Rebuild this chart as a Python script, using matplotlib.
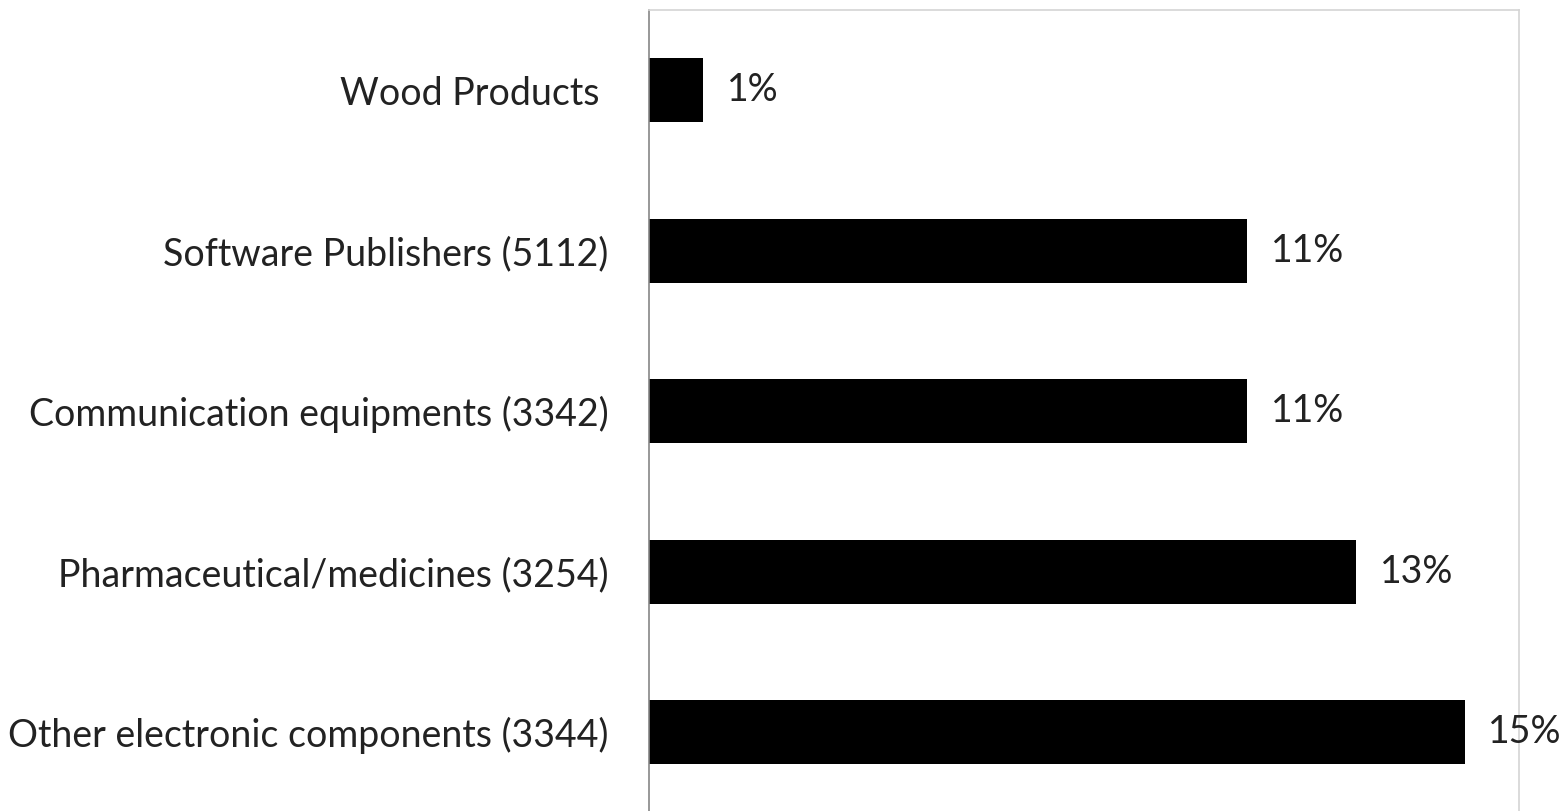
import matplotlib.pyplot as plt

# industry shares, listed top to bottom
industries = ['Wood Products ',
              'Software Publishers (5112)',
              'Communication equipments (3342)',
              'Pharmaceutical/medicines (3254)',
              'Other electronic components (3344)']
shares = [1, 11, 11, 13, 15]
share_labels = ['1%', '11%', '11%', '13%', '15%']

plt.rcParams['font.family'] = ['Lato', 'DejaVu Sans']

fig = plt.figure(figsize=(15.65, 8.11), dpi=100)
ax = fig.add_axes([649 / 1565, -1.5 / 811, 870 / 1565, 802.5 / 811])

pos = list(range(len(industries)))
bars = ax.barh(pos, shares, height=0.4, color='black')

for b, txt in zip(bars, share_labels):
    ax.annotate(txt, (b.get_width(), b.get_y() + b.get_height() / 2),
                xytext=(17, 0), textcoords='offset points',
                ha='left', va='center', fontsize=27, color='#222222',
                annotation_clip=False)

ax.set_xlim(0, 16)
ax.set_ylim(4.5, -0.5)
ax.set_yticks(pos)
ax.set_yticklabels(industries, fontsize=27, color='#222222')
ax.tick_params(axis='y', length=0, pad=29)
ax.set_xticks([])

ax.spines['left'].set_color('#868686')
ax.spines['left'].set_linewidth(1.2)
for s in ['top', 'right']:
    ax.spines[s].set_color('#d4d4d4')
    ax.spines[s].set_linewidth(1.2)
ax.spines['bottom'].set_visible(False)

fig.savefig('out.png', dpi=100)
